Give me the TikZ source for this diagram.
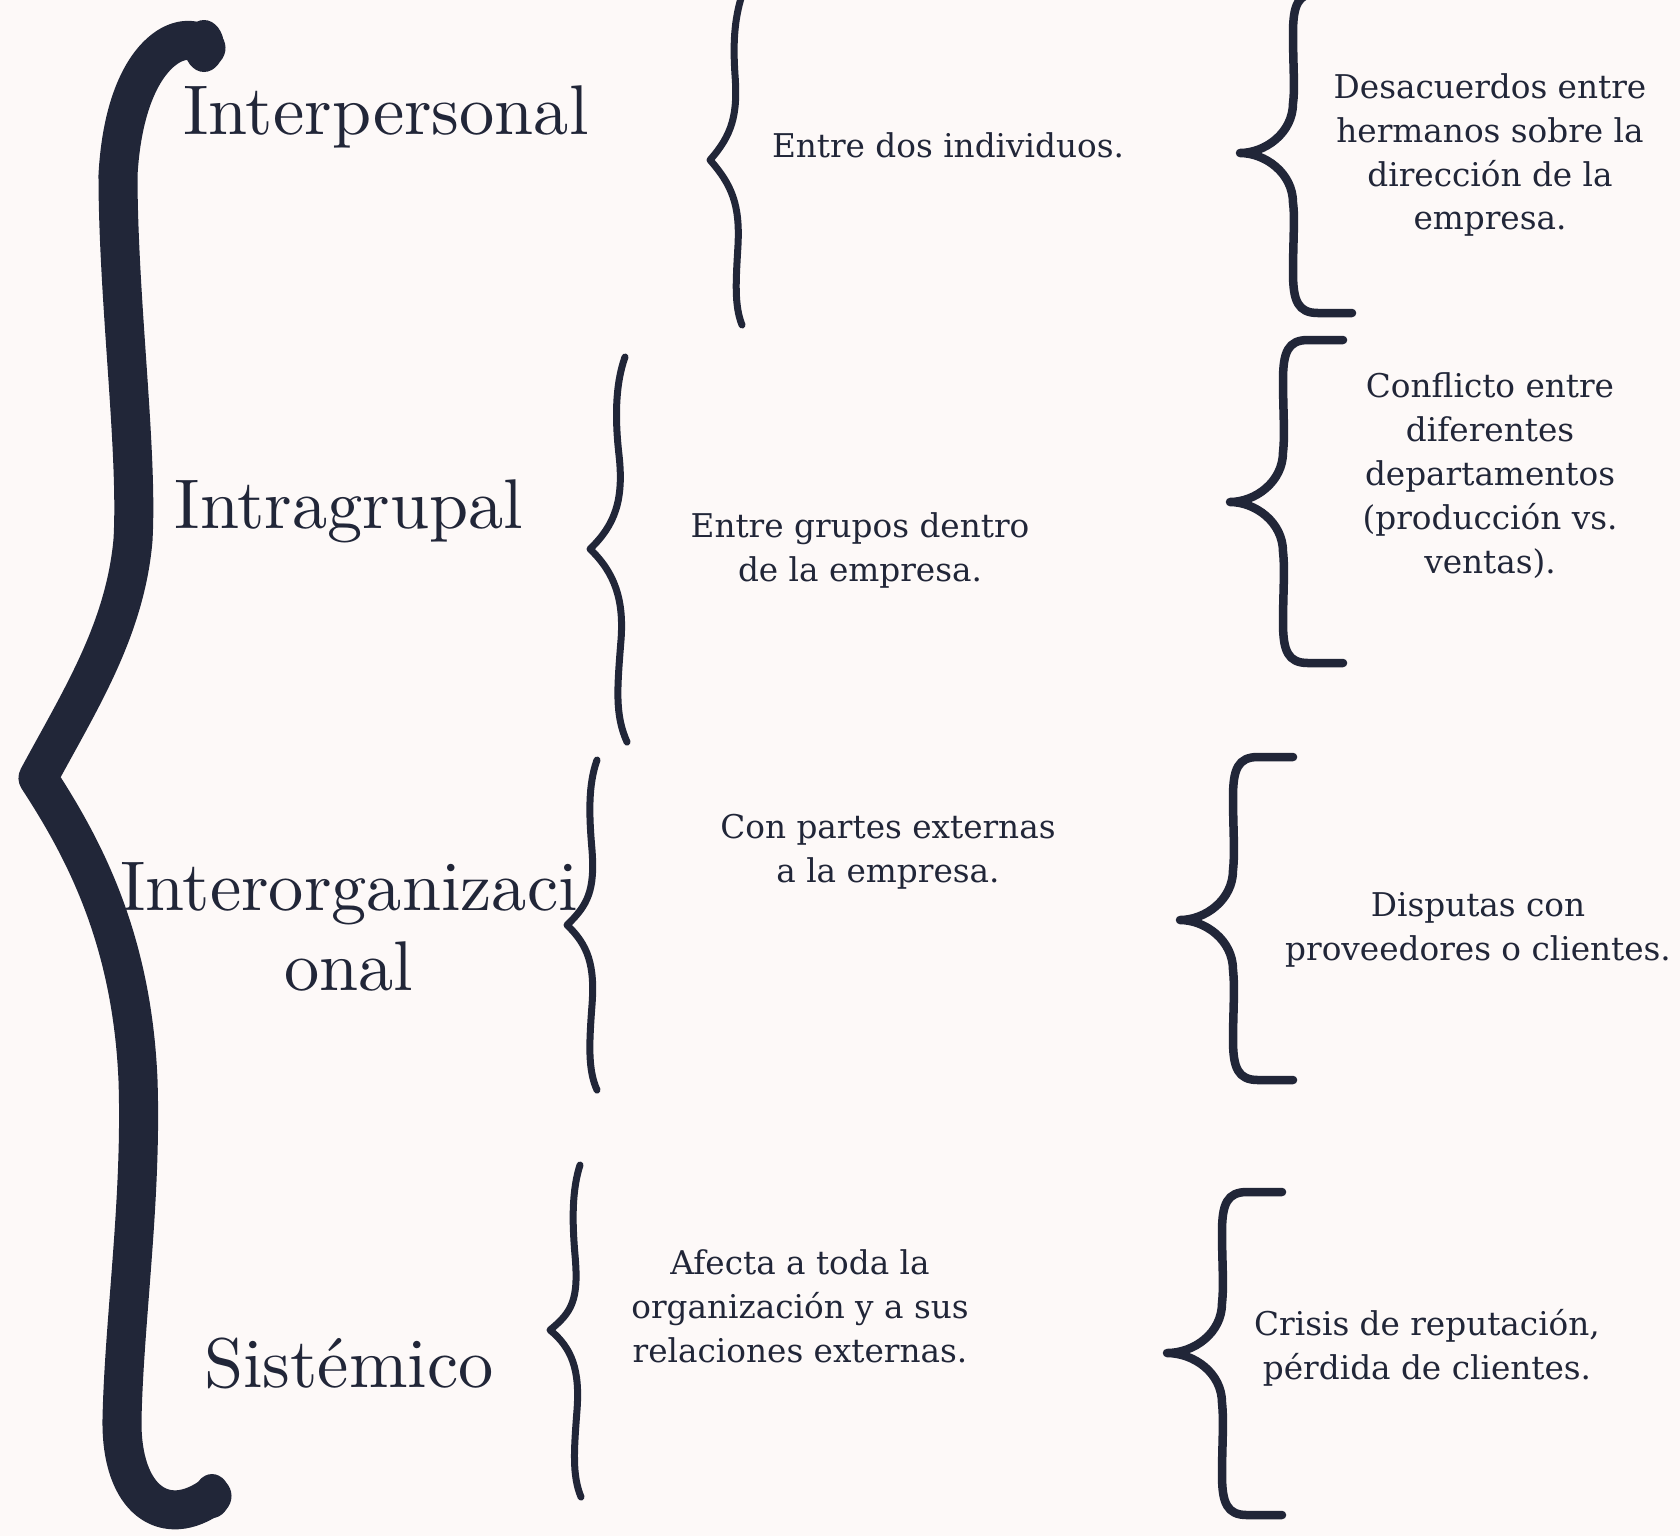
\documentclass[tikz,border=0pt]{standalone}
\usepackage{fontspec}
\newfontfamily\notefont{DejaVu Serif}
\newfontfamily\labelfont{lmroman10-regular}[Extension=.otf]
\usetikzlibrary{positioning}

\definecolor{ink}{HTML}{212638}
\definecolor{paper}{HTML}{FDF9F8}

\begin{document}
\begin{tikzpicture}[x=0.01cm, y=-0.01cm, font=\labelfont\fontsize{20}{22.8}\selectfont]
        \tikzstyle{label_style} = [text=ink, align=center]
        \tikzstyle{note_style} = [text=ink, align=center, font=\notefont\fontsize{9.3}{12.5}\selectfont]
        \tikzstyle{big_brace} = [draw=ink, line width=0.39cm, line cap=round, line join=round]
        \tikzstyle{thin_brace} = [draw=ink, line width=0.07cm, line cap=round, line join=round]
        \tikzstyle{hook_brace} = [draw=ink, line width=0.085cm, line cap=round, line join=round]

        \fill[paper] (0,0) rectangle (1680,1536);
        \useasboundingbox (0,0) rectangle (1680,1536);

        % tipos de conflicto
        \node[label_style, anchor=base] (t1) at (386,134) {Interpersonal};
        \node[label_style, anchor=base] (t2) at (349,528) {Intragrupal};
        \node[label_style] (t3) at (349,927) {Interorganizaci\\onal};
        \node[label_style, anchor=base] (t4) at (349,1387) {Sistémico};

        % descripciones
        \node[note_style] (d1) at (948,145) {Entre dos individuos.};
        \node[note_style] (d2) at (860,550) {Entre grupos dentro\\de la empresa.};
        \node[note_style] (d3) at (888,852) {Con partes externas\\a la empresa.};
        \node[note_style] (d4) at (800,1306) {Afecta a toda la\\organización y a sus\\relaciones externas.};

        % ejemplos
        \node[note_style] (e1) at (1490,155) {Desacuerdos entre\\hermanos sobre la\\dirección de la\\empresa.};
        \node[note_style] (e2) at (1490,476) {Conflicto entre\\diferentes\\departamentos\\(producción vs.\\ventas).};
        \node[note_style] (e3) at (1478,930) {Disputas con\\proveedores o clientes.};
        \node[note_style] (e4) at (1427,1348) {Crisis de reputación,\\pérdida de clientes.};

        % llave grande
        \draw[big_brace] (206,48) .. controls (185,25) and (125,50) .. (118,175)
            .. controls (118,300) and (138,450) .. (133,540)
            .. controls (125,630) and (80,700) .. (38,778)
            .. controls (85,850) and (132,940) .. (138,1080)
            .. controls (142,1200) and (124,1320) .. (122,1420)
            .. controls (121,1500) and (165,1530) .. (212,1496);
        \fill[ink] (204,46) ellipse [x radius=20, y radius=26];
        \fill[ink] (212,1496) ellipse [x radius=18, y radius=22];

        % llaves finas
        \draw[thin_brace] (742,-5) .. controls (734,20) and (733,45) .. (735,75)
            .. controls (738,115) and (732,135) .. (710,160)
            .. controls (732,185) and (740,205) .. (738,245)
            .. controls (736,280) and (734,305) .. (742,325);
        \draw[thin_brace] (625,357) .. controls (615,385) and (615,420) .. (619,455)
            .. controls (624,500) and (615,525) .. (590,549)
            .. controls (615,573) and (624,600) .. (621,640)
            .. controls (617,690) and (615,715) .. (627,742);
        \draw[thin_brace] (597,760) .. controls (588,785) and (589,815) .. (592,850)
            .. controls (595,890) and (588,905) .. (567,925)
            .. controls (588,945) and (595,965) .. (592,1005)
            .. controls (589,1045) and (588,1070) .. (597,1090);
        \draw[thin_brace] (580,1165) .. controls (572,1190) and (572,1220) .. (575,1255)
            .. controls (579,1300) and (572,1312) .. (550,1330)
            .. controls (572,1348) and (580,1370) .. (577,1410)
            .. controls (574,1450) and (572,1475) .. (581,1497);

        % llaves con ganchos
        \draw[hook_brace] (1352,-7) -- (1318,-7) .. controls (1298,-7) and (1293,5) .. (1293,33)
            .. controls (1293,65) and (1295,89) .. (1293,103)
            .. controls (1293,133) and (1265,153) .. (1240,153)
            .. controls (1265,153) and (1293,173) .. (1293,203)
            .. controls (1295,217) and (1293,241) .. (1293,273)
            .. controls (1293,301) and (1298,313) .. (1318,313) -- (1352,313);
        \draw[hook_brace] (1343,340) -- (1308,340) .. controls (1288,340) and (1283,352) .. (1283,380)
            .. controls (1283,410) and (1285,435) .. (1283,452)
            .. controls (1283,482) and (1255,502) .. (1230,502)
            .. controls (1255,502) and (1283,522) .. (1283,552)
            .. controls (1285,569) and (1283,594) .. (1283,623)
            .. controls (1283,651) and (1288,663) .. (1308,663) -- (1343,663);
        \draw[hook_brace] (1293,757) -- (1258,757) .. controls (1238,757) and (1233,769) .. (1233,797)
            .. controls (1233,827) and (1235,852) .. (1233,870)
            .. controls (1233,900) and (1205,920) .. (1180,920)
            .. controls (1205,920) and (1233,940) .. (1233,970)
            .. controls (1235,988) and (1233,1013) .. (1233,1040)
            .. controls (1233,1068) and (1238,1080) .. (1258,1080) -- (1293,1080);
        \draw[hook_brace] (1282,1192) -- (1247,1192) .. controls (1227,1192) and (1222,1204) .. (1222,1232)
            .. controls (1222,1262) and (1224,1285) .. (1222,1303)
            .. controls (1222,1333) and (1194,1353) .. (1167,1353)
            .. controls (1194,1353) and (1222,1373) .. (1222,1403)
            .. controls (1224,1421) and (1222,1446) .. (1222,1475)
            .. controls (1222,1503) and (1227,1515) .. (1247,1515) -- (1282,1515);

    \end{tikzpicture}
\end{document}
